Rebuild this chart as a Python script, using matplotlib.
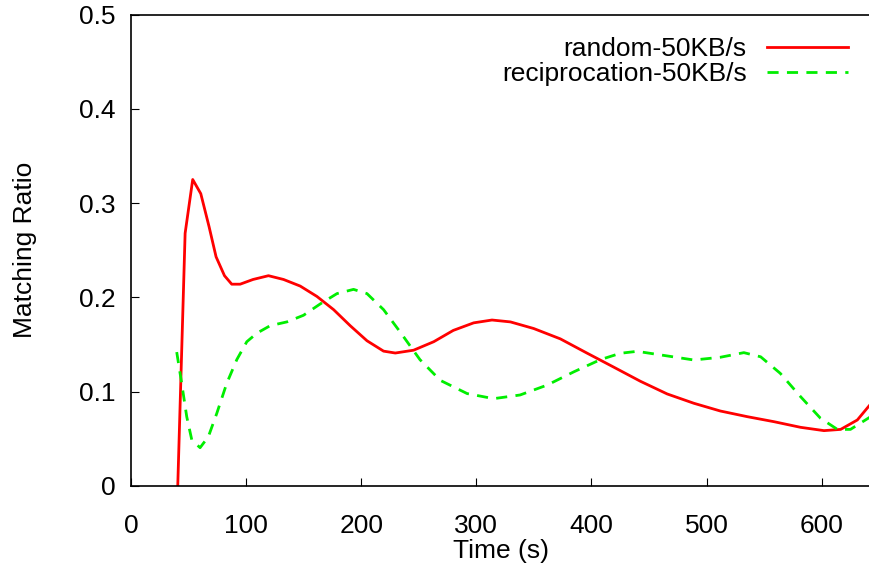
import matplotlib
matplotlib.use("Agg")
import matplotlib.pyplot as plt
import numpy as np

plt.rcParams['font.family'] = ['Liberation Sans', 'DejaVu Sans']

# random-50KB/s
t_random = [40.6, 47, 53.6, 60.6, 67.8, 73.9, 81.2, 87.5, 94.8, 106, 119.4, 132.5,
            147, 161.5, 176, 190.4, 205, 219.4, 229.6, 245.5, 263, 280, 297.7,
            313.6, 329.6, 349.8, 373, 396, 419.4, 442.6, 465.8, 489, 512, 535.4,
            558.5, 581.7, 602, 616.5, 631, 642.6]
r_random = [0.0, 0.268, 0.325, 0.310, 0.275, 0.243, 0.223, 0.214, 0.214, 0.219, 0.223, 0.219,
            0.212, 0.201, 0.187, 0.170, 0.154, 0.143, 0.141, 0.144, 0.153, 0.165, 0.173,
            0.176, 0.174, 0.167, 0.156, 0.141, 0.126, 0.111, 0.0976, 0.0877, 0.0795, 0.0735,
            0.0682, 0.0622, 0.0587, 0.060, 0.070, 0.087]

# reciprocation-50KB/s
t_recip = [39.7, 44, 48.4, 52.8, 60, 67.2, 74.5, 83.2, 91.9, 100.6, 109.3, 120.9,
           135.4, 149.8, 164.3, 178.9, 193.3, 205, 219.4, 234, 251, 268.7, 292, 315,
           338, 361.5, 384.6, 407.8, 425, 439.7, 460, 489, 512, 532.4, 547, 564,
           581.7, 599, 613.7, 625, 642.6]
r_recip = [0.142, 0.109, 0.0735, 0.0488, 0.0406, 0.0523, 0.077, 0.109, 0.134, 0.153, 0.162, 0.170,
           0.174, 0.181, 0.193, 0.204, 0.2085, 0.204, 0.187, 0.163, 0.134, 0.112, 0.098, 0.0926,
           0.0965, 0.107, 0.121, 0.134, 0.1407, 0.1428, 0.139, 0.1336, 0.1365, 0.1414, 0.137, 0.1195,
           0.0947, 0.0718, 0.060, 0.060, 0.0735]

fig = plt.figure(figsize=(8.7, 5.71), dpi=100)
ax = fig.add_axes([0.1506, 0.1489, 0.8494, 0.8257])

ax.plot(t_random, r_random, color='#ff0000', lw=2.0, label='random-50KB/s')
ax.plot(t_recip, r_recip, color='#00ee00', lw=2.0, dashes=(4, 3),
        label='reciprocation-50KB/s')

ax.set_xlim(0, 642)
ax.set_ylim(0, 0.5)
ax.set_xticks(np.arange(0, 601, 100))
ax.set_yticks([0, 0.1, 0.2, 0.3, 0.4, 0.5])
ax.set_yticklabels(['0', '0.1', '0.2', '0.3', '0.4', '0.5'])
ax.spines['right'].set_visible(False)
for s in ax.spines.values():
    s.set_linewidth(1.2)
ax.tick_params(axis='both', direction='in', length=6, labelsize=19)
ax.tick_params(axis='x', pad=20)
ax.tick_params(axis='y', pad=11)

ax.set_xlabel('Time (s)', fontsize=19, labelpad=1)
ax.set_ylabel('Matching Ratio', fontsize=19, labelpad=30)

ax.legend(loc='upper right', bbox_to_anchor=(0.985, 0.975), frameon=False,
          markerfirst=False, fontsize=19, handlelength=3.1, handletextpad=0.75,
          labelspacing=0.05, borderaxespad=0)

fig.savefig('out.png', dpi=100)
